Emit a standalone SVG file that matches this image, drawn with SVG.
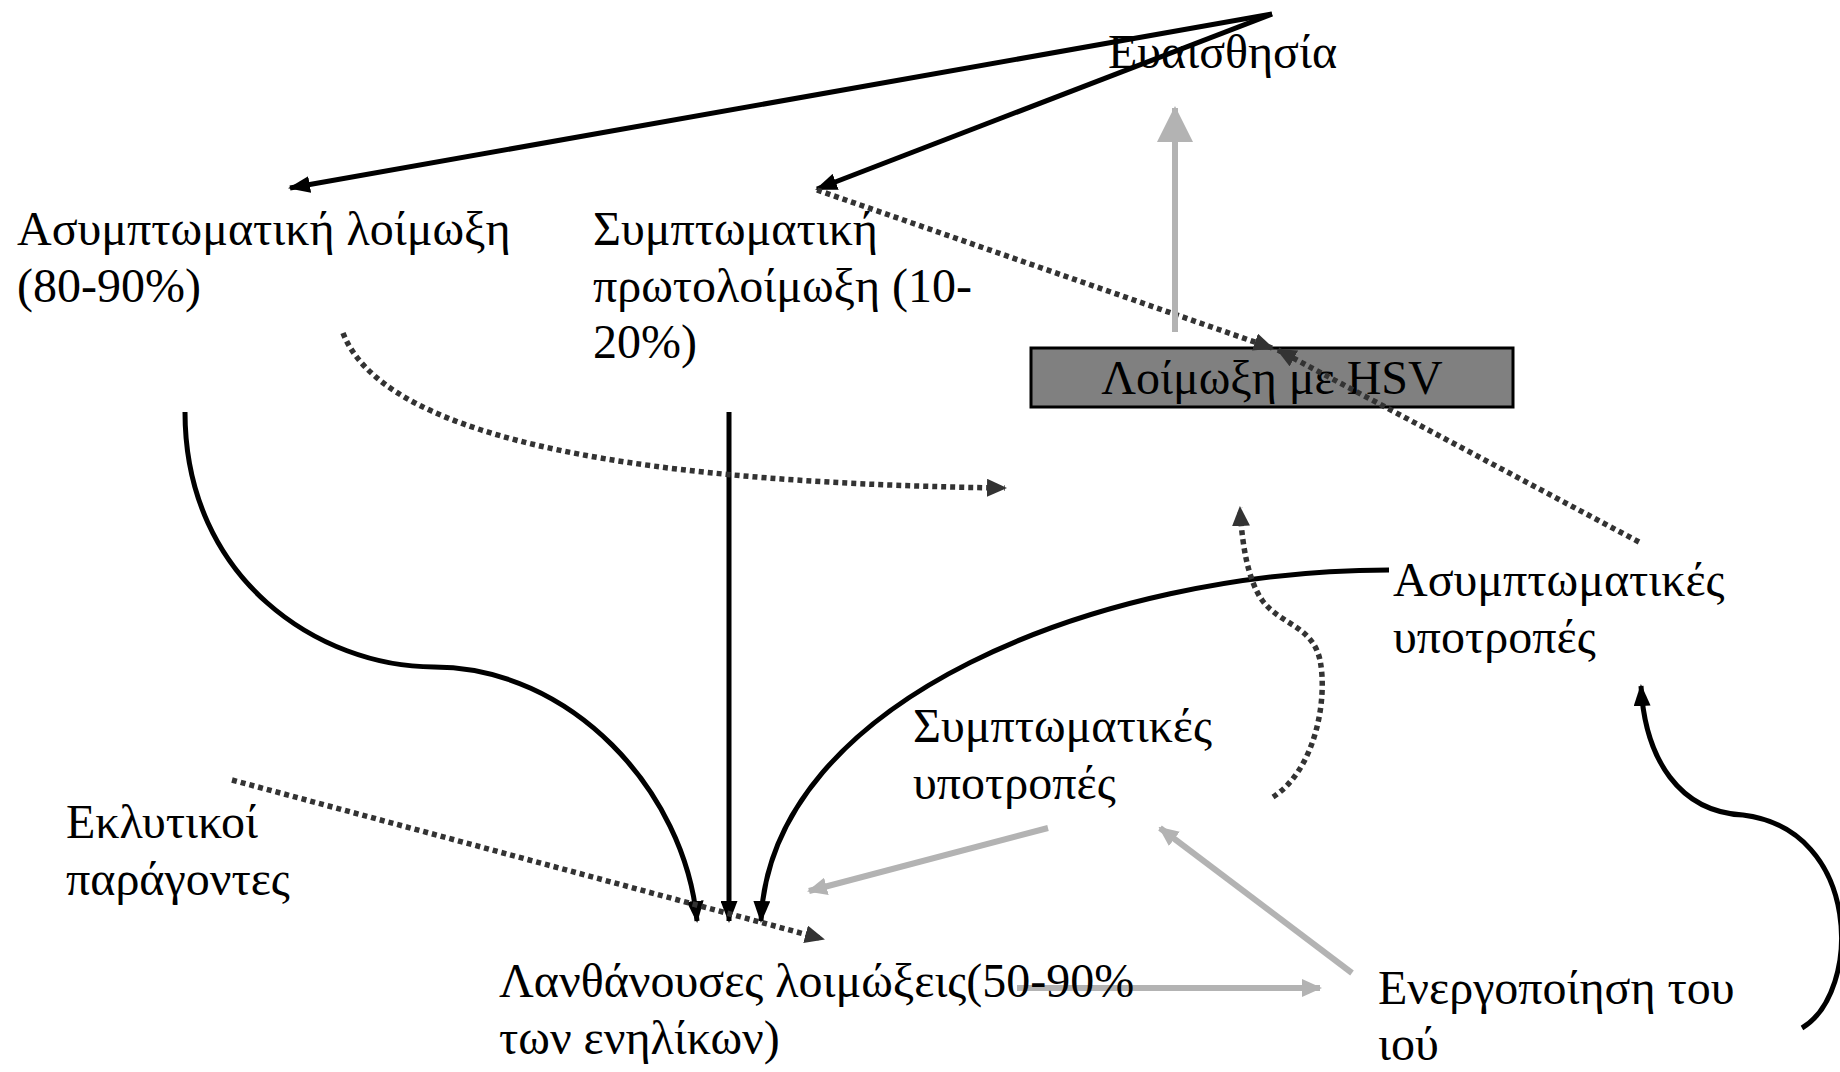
<svg xmlns="http://www.w3.org/2000/svg" width="1840" height="1072" viewBox="0 0 1840 1072">
<style>
  .t { font-family: "Liberation Serif", "Times New Roman", "DejaVu Serif", serif; font-size: 48px; fill: #000; }
  .solid { fill: none; stroke: #000; stroke-width: 5; }
  .dot { fill: none; stroke: #333; stroke-width: 5.5; stroke-dasharray: 5 4; }
  .gray { fill: none; stroke: #b3b3b3; stroke-width: 6; }
</style>
<defs>
  <marker id="ab" markerUnits="userSpaceOnUse" markerWidth="22" markerHeight="17" viewBox="0 0 22 17" refX="20" refY="8.5" orient="auto">
    <path d="M0,0 L22,8.5 L0,17 z" fill="#000"/>
  </marker>
  <marker id="ad" markerUnits="userSpaceOnUse" markerWidth="20" markerHeight="18" viewBox="0 0 20 18" refX="18" refY="9" orient="auto">
    <path d="M0,0 L20,9 L0,18 z" fill="#333"/>
  </marker>
  <marker id="ag" markerUnits="userSpaceOnUse" markerWidth="20" markerHeight="18" viewBox="0 0 20 18" refX="18" refY="9" orient="auto">
    <path d="M0,0 L20,9 L0,18 z" fill="#b3b3b3"/>
  </marker>
  <marker id="agb" markerUnits="userSpaceOnUse" markerWidth="36" markerHeight="36" viewBox="0 0 36 36" refX="34" refY="18" orient="auto">
    <path d="M0,0 L36,18 L0,36 z" fill="#b3b3b3"/>
  </marker>
</defs>

<g id="n-hsv">
  <rect x="1031" y="348" width="482" height="59" fill="#808080" stroke="#000" stroke-width="3"/>
  <text class="t" x="1272" y="394" text-anchor="middle">Λοίμωξη με HSV</text>
</g>

<g id="connectors">
  <!-- black solid -->
  <path class="solid" d="M1272,14 L290,188" marker-end="url(#ab)"/>
  <path class="solid" d="M1272,14 L817,189" marker-end="url(#ab)"/>
  <path class="solid" d="M185,412 C185,580 320,667 434,667 C570,667 685,790 697,921" marker-end="url(#ab)"/>
  <path class="solid" d="M729,412 L729,921" marker-end="url(#ab)"/>
  <path class="solid" d="M1389,570 C1100,570 770,700 761,921" marker-end="url(#ab)"/>
  <path class="solid" d="M1802,1028 C1862,992 1862,830 1743,815 C1680,812 1645,760 1641,686" marker-end="url(#ab)"/>
  <!-- dotted -->
  <path class="dot" d="M817,190 L1272,348" marker-end="url(#ad)"/>
  <path class="dot" d="M1639,542 L1278,350" marker-end="url(#ad)"/>
  <path class="dot" d="M343,333 Q400,480 1005,488" marker-end="url(#ad)"/>
  <path class="dot" d="M232,780 L823,939" marker-end="url(#ad)"/>
  <path class="dot" d="M1273,797 C1315,770 1328,700 1320,660 C1312,625 1280,625 1262,600 C1248,580 1242,545 1240,508" marker-end="url(#ad)"/>
  <!-- gray -->
  <path class="gray" d="M1175,332 L1175,108" stroke-width="14" marker-end="url(#agb)"/>
  <path class="gray" d="M1048,828 L809,891" marker-end="url(#ag)"/>
  <path class="gray" d="M1352,973 L1160,828" marker-end="url(#ag)"/>
  <path class="gray" d="M1017,988 L1320,988" stroke-width="7" marker-end="url(#ag)"/>
</g>

<g id="n-sens">
  <text class="t" x="1108" y="68">Ευαισθησία</text>
</g>
<g id="n-asym-inf">
  <text class="t" x="17" y="245">Ασυμπτωματική λοίμωξη</text>
  <text class="t" x="17" y="302">(80-90%)</text>
</g>
<g id="n-sym-prim">
  <text class="t" x="593" y="245">Συμπτωματική</text>
  <text class="t" x="593" y="302">πρωτολοίμωξη (10-</text>
  <text class="t" x="593" y="358">20%)</text>
</g>
<g id="n-asym-rel">
  <text class="t" x="1393" y="596">Ασυμπτωματικές</text>
  <text class="t" x="1393" y="653">υποτροπές</text>
</g>
<g id="n-sym-rel">
  <text class="t" x="913" y="742">Συμπτωματικές</text>
  <text class="t" x="913" y="799">υποτροπές</text>
</g>
<g id="n-trig">
  <text class="t" x="66" y="838">Εκλυτικοί</text>
  <text class="t" x="66" y="895">παράγοντες</text>
</g>
<g id="n-latent">
  <text class="t" x="499" y="997">Λανθάνουσες λοιμώξεις(50-90%</text>
  <text class="t" x="499" y="1054">των ενηλίκων)</text>
</g>
<g id="n-react">
  <text class="t" x="1378" y="1004">Ενεργοποίηση του</text>
  <text class="t" x="1378" y="1060">ιού</text>
</g>
</svg>
